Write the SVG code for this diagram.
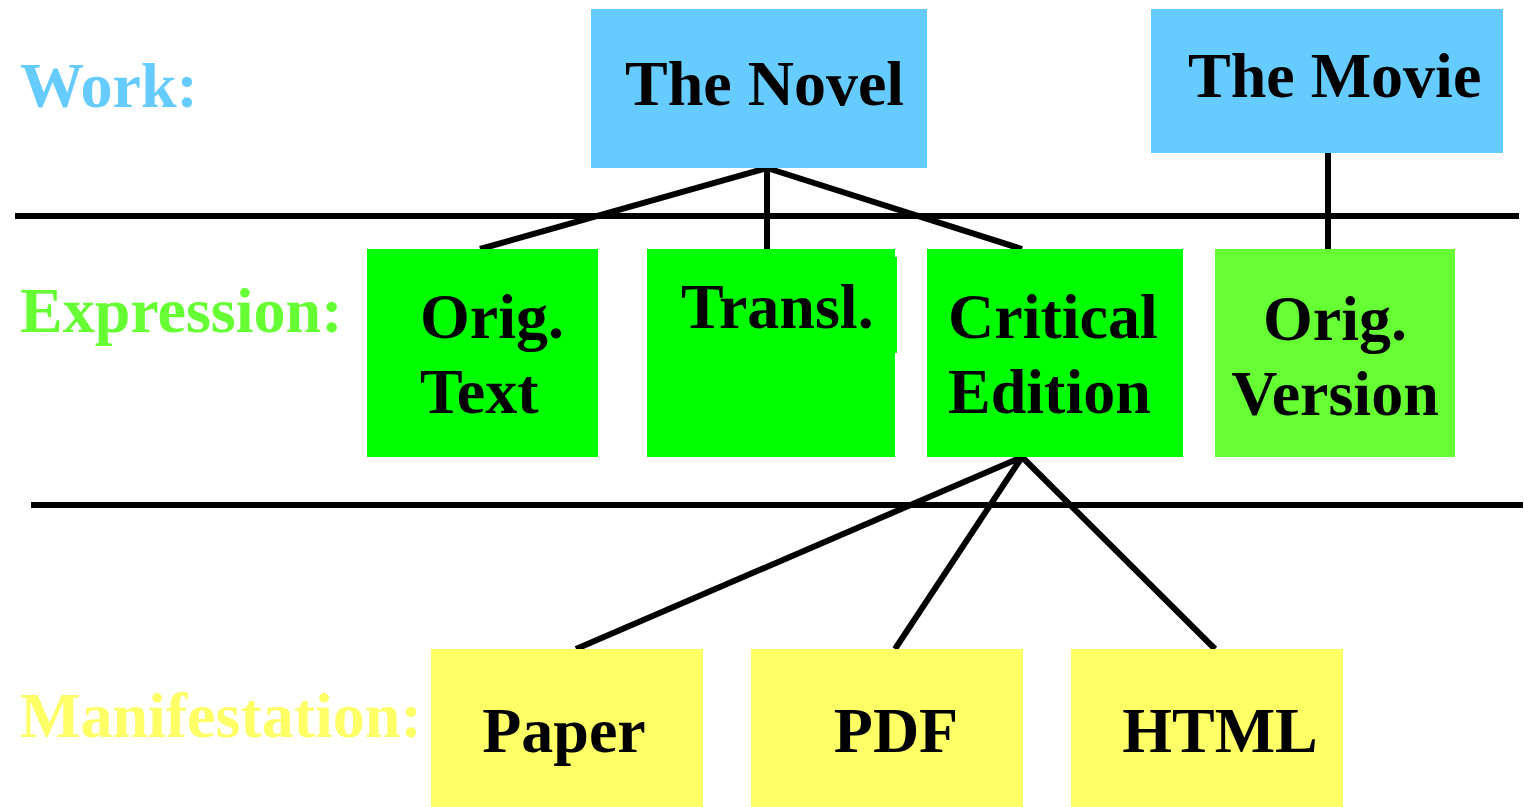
<svg xmlns="http://www.w3.org/2000/svg" width="1524" height="807" viewBox="0 0 1524 807">
<style>
text{font-family:"Liberation Serif","Times New Roman",serif;font-weight:bold;font-size:64px;fill:#000}
.work{fill:#66CCFF}
.expr{fill:#00FF00}
.expr2{fill:#66FF33}
.man{fill:#FFFF66}
.lbl-w{fill:#66CCFF}
.lbl-e{fill:#66FF33}
.lbl-m{fill:#FFFF66}
.ln{stroke:#000;stroke-width:6;fill:none}
</style>
<rect width="1524" height="807" fill="#fff"/>
<g id="labels">
<text class="lbl-w" x="20" y="107">Work:</text>
<text class="lbl-e" x="20" y="332">Expression:</text>
<text class="lbl-m" x="20" y="737">Manifestation:</text>
</g>
<g id="connectors">
<line class="ln" x1="15" y1="216" x2="1519" y2="216"/>
<line class="ln" x1="31" y1="505" x2="1523" y2="505"/>
<line class="ln" x1="767" y1="168" x2="480" y2="249"/>
<line class="ln" x1="767" y1="168" x2="767" y2="249"/>
<line class="ln" x1="767" y1="168" x2="1022" y2="249"/>
<line class="ln" x1="1328" y1="153" x2="1328" y2="249"/>
<line class="ln" x1="1022" y1="457" x2="576" y2="649"/>
<line class="ln" x1="1022" y1="457" x2="895" y2="649"/>
<line class="ln" x1="1022" y1="457" x2="1215" y2="649"/>
</g>
<g id="novel">
<rect class="work" x="591" y="9" width="336" height="159"/>
<text x="625" y="105">The Novel</text>
</g>
<g id="movie">
<rect class="work" x="1151" y="9" width="352" height="144"/>
<text x="1188" y="97">The Movie</text>
</g>
<g id="origtext">
<rect class="expr" x="367" y="249" width="231" height="208"/>
<text x="420" y="338">Orig.</text>
<text x="420" y="413">Text</text>
</g>
<g id="transl">
<rect class="expr" x="647" y="249" width="248" height="208"/>
<rect class="expr" x="895" y="257" width="2" height="96"/>
<text x="681" y="328">Transl.</text>
</g>
<g id="critical">
<rect class="expr" x="927" y="249" width="256" height="208"/>
<text x="948" y="338">Critical</text>
<text x="948" y="413">Edition</text>
</g>
<g id="origversion">
<rect class="expr2" x="1215" y="249" width="240" height="208"/>
<text x="1335" y="340" text-anchor="middle">Orig.</text>
<text x="1335" y="415" text-anchor="middle">Version</text>
</g>
<g id="paper">
<rect class="man" x="431" y="649" width="272" height="158"/>
<text x="564" y="752" text-anchor="middle">Paper</text>
</g>
<g id="pdf">
<rect class="man" x="751" y="649" width="272" height="158"/>
<text x="896" y="752" text-anchor="middle">PDF</text>
</g>
<g id="html">
<rect class="man" x="1071" y="649" width="272" height="158"/>
<text x="1220" y="752" text-anchor="middle">HTML</text>
</g>
</svg>
